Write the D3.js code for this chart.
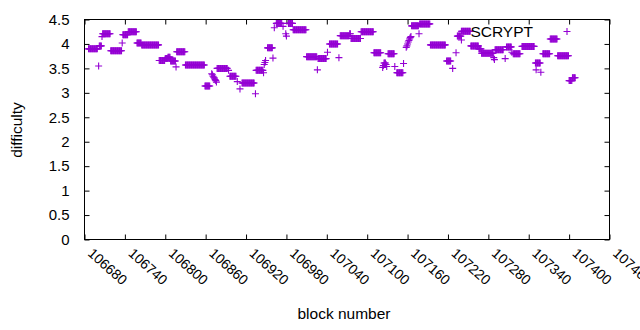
<!DOCTYPE html>
<html>
<head>
<meta charset="utf-8">
<script src="https://cdn.jsdelivr.net/npm/d3@7"></script>
<style>
  body { margin: 0; background: #fff; }
  svg text { font-family: "Liberation Sans", Arial, sans-serif; font-size: 15px; fill: #000; }
</style>
</head>
<body>
<div id="chart"></div>
<script>
// difficulty per block, stored as runs of equal value (first block, last block, value)
const runFirst = [
  106686, 106701, 106702, 106706, 106707, 106719, 106736, 106737, 106745, 106758,
  106765, 106791, 106800, 106804, 106808, 106816, 106817, 106830, 106859,
  106869, 106870, 106871, 106872, 106873, 106874, 106875, 106876,
  106877, 106894, 106896, 106907, 106911, 106914, 106934, 106935, 106946,
  106947, 106948, 106949, 106952, 106960, 106962, 106965, 106975, 106979, 106980,
  106983, 106990, 107010, 107026, 107027, 107041, 107044, 107058, 107060, 107074,
  107076, 107091, 107110, 107123, 107124, 107125, 107128, 107129, 107131, 107141,
  107144, 107154,
  107158, 107159, 107160, 107161, 107162, 107163, 107164, 107165,
  107166, 107177, 107178, 107194, 107218, 107227, 107232, 107234, 107240, 107240,
  107254, 107266, 107270, 107288, 107289, 107290, 107305, 107307, 107315, 107317,
  107330, 107350, 107351, 107358, 107361, 107372, 107383, 107400, 107405
];
const runLast = [
  106699, 106701, 106705, 106706, 106718, 106735, 106736, 106744, 106757, 106764,
  106790, 106799, 106803, 106807, 106815, 106816, 106829, 106858, 106866,
  106869, 106870, 106871, 106872, 106873, 106874, 106875, 106876,
  106892, 106894, 106905, 106907, 106911, 106932, 106934, 106945, 106946,
  106947, 106948, 106949, 106959, 106960, 106962, 106973, 106975, 106979, 106980,
  106989, 107009, 107025, 107026, 107039, 107041, 107056, 107058, 107073, 107075,
  107090, 107109, 107120, 107123, 107124, 107127, 107128, 107129, 107140, 107141,
  107153, 107154,
  107158, 107159, 107160, 107161, 107162, 107163, 107164, 107165,
  107176, 107177, 107193, 107216, 107224, 107227, 107232, 107239, 107253, 107240,
  107265, 107269, 107287, 107288, 107289, 107302, 107305, 107314, 107315, 107327,
  107348, 107357, 107351, 107358, 107371, 107382, 107399, 107404, 107409
];
const runDifficulty = [
  3.90, 3.55, 3.96, 4.15, 4.21, 3.86, 4.02, 4.19, 4.25, 4.02,
  3.98, 3.66, 3.70, 3.73, 3.65, 3.53, 3.84, 3.57, 3.14,
  3.39, 3.37, 3.34, 3.32, 3.30, 3.27, 3.25, 3.22,
  3.50, 3.46, 3.34, 3.23, 3.08, 3.20, 2.98, 3.46, 3.41,
  3.58, 3.62, 3.66, 3.92, 3.71, 4.33, 4.42, 4.36, 4.21, 4.16,
  4.42, 4.29, 3.74, 3.47, 3.70, 3.83, 4.00, 3.72, 4.17, 4.21,
  4.11, 4.25, 3.82, 3.52, 3.56, 3.61, 3.58, 3.54, 3.80, 3.54,
  3.41, 3.60,
  3.93, 3.96, 4.00, 4.04, 4.07, 4.10, 4.13, 4.15,
  4.37, 4.21, 4.41, 3.98, 3.65, 3.50, 3.82, 4.16, 4.26, 4.08,
  3.96, 3.90, 3.81, 3.72, 3.68, 3.88, 3.70, 3.94, 3.83, 3.80,
  3.95, 3.61, 3.47, 3.42, 3.80, 4.10, 3.76, 3.25, 3.31
];

const xTicks = [106680, 106740, 106800, 106860, 106920, 106980, 107040,
                107100, 107160, 107220, 107280, 107340, 107400, 107460];
const yTicks = [0, 0.5, 1, 1.5, 2, 2.5, 3, 3.5, 4, 4.5];
const seriesName = 'SCRYPT';

const width = 640, height = 330;
const plotLeft = 84.5, plotRight = 609.5, plotTop = 19.5, plotBottom = 239.5;
const purple = '#9400d3';

// one point per block
const points = [];
runFirst.forEach((first, i) => {
  for (let b = first; b <= runLast[i]; b++) {
    points.push({ block: b, difficulty: runDifficulty[i] });
  }
});

const svg = d3.select('#chart').append('svg')
  .attr('width', width)
  .attr('height', height);

const x = d3.scaleLinear().domain([106680, 107460]).range([plotLeft, plotRight]);
const y = d3.scaleLinear().domain([0, 4.5]).range([plotBottom, plotTop]);

const tickLen = 5;

// axes, ticks pointing inward and mirrored
svg.append('g')
  .attr('transform', `translate(0,${plotBottom})`)
  .call(d3.axisBottom(x).tickValues(xTicks).tickSize(-tickLen).tickFormat(d3.format('d')))
  .call(g => g.select('.domain').remove())
  .call(g => g.selectAll('text')
    .attr('x', 0).attr('y', 0).attr('dy', null)
    .attr('transform', 'translate(2,15) rotate(42)')
    .style('text-anchor', 'start')
    .style('font-size', '14px'));

svg.append('g')
  .attr('transform', `translate(0,${plotTop})`)
  .call(d3.axisTop(x).tickValues(xTicks).tickSize(-tickLen).tickFormat(''))
  .call(g => g.select('.domain').remove());

svg.append('g')
  .attr('transform', `translate(${plotLeft},0)`)
  .call(d3.axisLeft(y).tickValues(yTicks).tickSize(-tickLen).tickPadding(15)
    .tickFormat(d => String(d)))
  .call(g => g.select('.domain').remove())
  .call(g => g.selectAll('text').style('font-size', '15px'));

svg.append('g')
  .attr('transform', `translate(${plotRight},0)`)
  .call(d3.axisRight(y).tickValues(yTicks).tickSize(-tickLen).tickFormat(''))
  .call(g => g.select('.domain').remove());

svg.selectAll('.tick line').attr('stroke', '#000');
svg.selectAll('.tick text').attr('fill', '#000')
  .style('font-family', '"Liberation Sans", Arial, sans-serif');

// frame
svg.append('rect')
  .attr('x', plotLeft).attr('y', plotTop)
  .attr('width', plotRight - plotLeft).attr('height', plotBottom - plotTop)
  .attr('fill', 'none').attr('stroke', '#000').attr('stroke-width', 1);

// points drawn as gnuplot style "+"
const plus = 'M-3.5,0H3.5M0,-3.5V3.5';
svg.append('g')
  .selectAll('path')
  .data(points)
  .join('path')
  .attr('transform', d => `translate(${x(d.block)},${y(d.difficulty)})`)
  .attr('d', plus)
  .attr('fill', 'none')
  .attr('stroke', purple)
  .attr('stroke-width', 1.1);

// key
svg.append('text')
  .attr('x', 533).attr('y', 37)
  .attr('text-anchor', 'end')
  .style('font-size', '15.5px')
  .text(seriesName);
svg.append('path')
  .attr('transform', 'translate(567,31.5)')
  .attr('d', plus)
  .attr('fill', 'none')
  .attr('stroke', purple)
  .attr('stroke-width', 1.1);

// axis titles
svg.append('text')
  .attr('transform', 'translate(22,130) rotate(-90)')
  .attr('text-anchor', 'middle')
  .style('font-size', '15.5px')
  .text('difficulty');
svg.append('text')
  .attr('x', 344).attr('y', 319)
  .attr('text-anchor', 'middle')
  .style('font-size', '15.5px')
  .text('block number');
</script>
</body>
</html>
